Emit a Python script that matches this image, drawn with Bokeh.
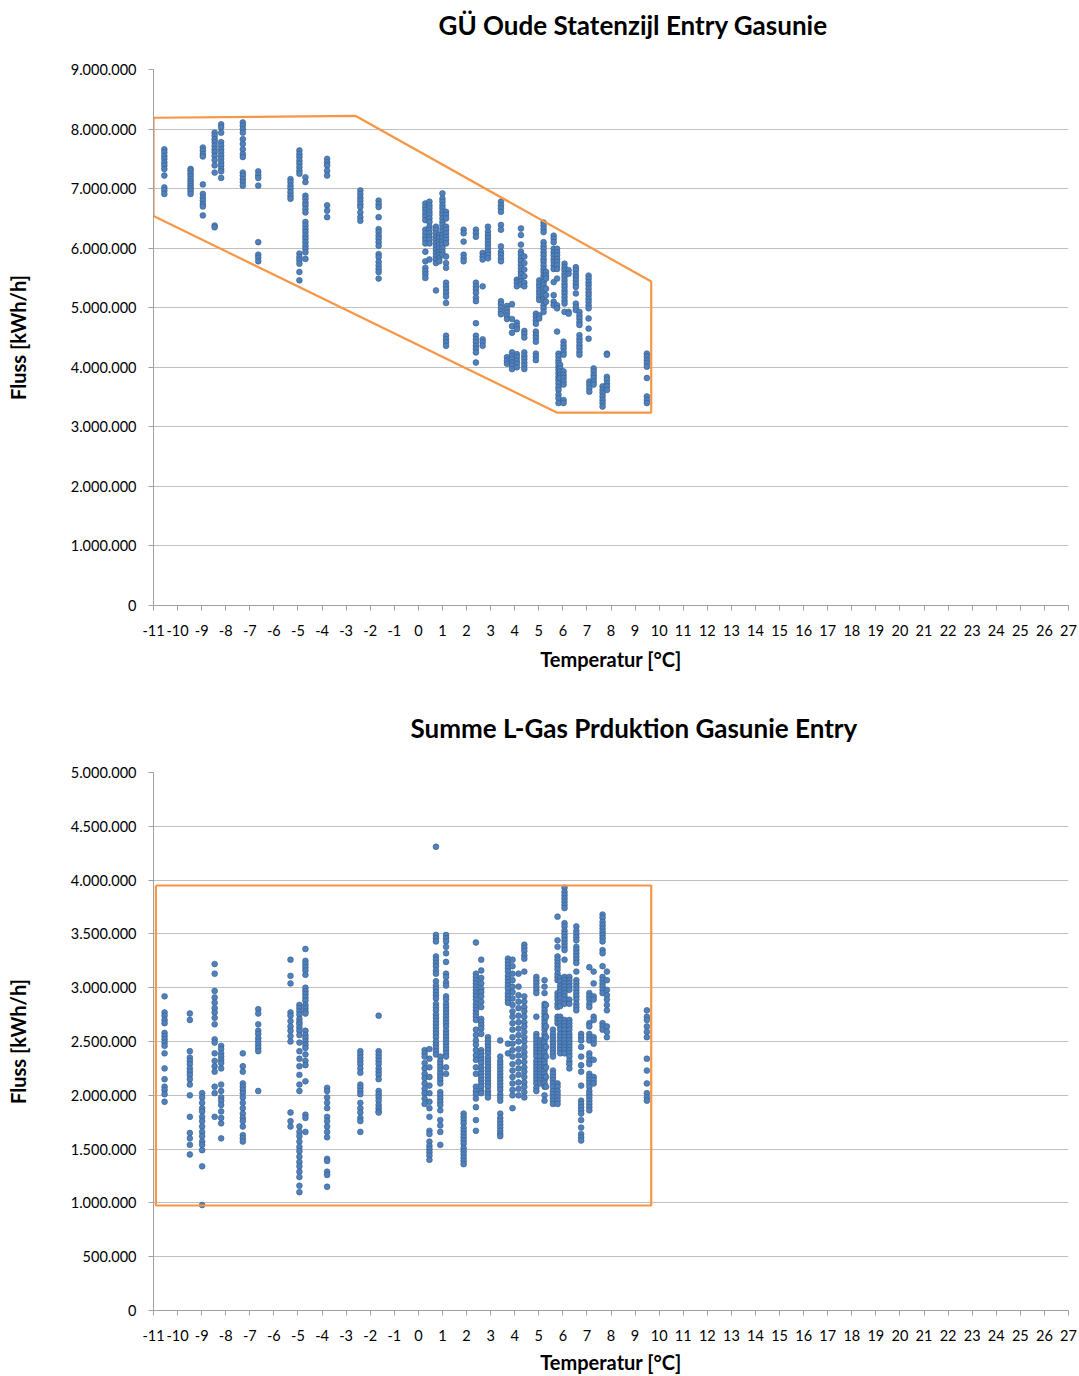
from bokeh.plotting import figure
from bokeh.layouts import column
from bokeh.models import Range1d, FixedTicker, CustomJSTickFormatter, Title
from bokeh.embed import file_html
from bokeh.resources import INLINE

# ---------------- data (flows in million kWh/h) ----------------
top_title = "GÜ Oude Statenzijl Entry Gasunie"
bot_title = "Summe L-Gas Prduktion Gasunie Entry"
x_label = "Temperatur [°C]"
y_label = "Fluss [kWh/h]"

top_temps = [-10.55, -9.46, -8.95, -8.46, -8.19, -7.29, -6.65, -5.31, -4.94, -4.69,
             -3.79, -2.41, -1.65, 0.29, 0.46, 0.73, 0.87, 1.00, 1.15, 1.88,
             2.39, 2.67, 2.89, 3.43, 3.68, 3.89, 4.09, 4.26, 4.40, 4.88,
             5.02, 5.20, 5.30, 5.62, 5.76, 5.82, 5.89, 6.03, 6.07, 6.24,
             6.54, 6.69, 7.07, 7.10, 7.28, 7.65, 7.83, 9.49]
top_flows_mio = [
    [7.66, 7.61, 7.55, 7.50, 7.44, 7.39, 7.33, 7.22, 7.02, 6.97, 6.91],
    [7.33, 7.30, 7.25, 7.21, 7.16, 7.12, 7.08, 7.04, 7.00, 6.96, 6.91],
    [7.69, 7.64, 7.58, 7.54, 7.07, 6.91, 6.85, 6.80, 6.74, 6.70, 6.55],
    [7.94, 7.89, 7.83, 7.78, 7.72, 7.66, 7.61, 7.55, 7.48, 7.39, 7.27, 6.38, 6.35],
    [8.08, 8.03, 7.94, 7.78, 7.72, 7.66, 7.61, 7.55, 7.50, 7.44, 7.39, 7.33, 7.29, 7.18],
    [8.11, 8.06, 8.00, 7.94, 7.83, 7.75, 7.66, 7.58, 7.53, 7.27, 7.22, 7.16, 7.11, 7.05],
    [7.29, 7.23, 7.18, 7.05, 6.10, 5.89, 5.84, 5.78],
    [7.16, 7.11, 7.05, 7.00, 6.94, 6.88, 6.83],
    [7.64, 7.58, 7.53, 7.47, 7.42, 7.36, 7.30, 7.25, 5.91, 5.85, 5.80, 5.74, 5.60, 5.46],
    [7.19, 7.11, 6.88, 6.83, 6.77, 6.72, 6.66, 6.60, 6.44, 6.38, 6.32, 6.27, 6.21, 6.16,
     6.10, 6.04, 5.99, 5.93, 5.82],
    [7.50, 7.44, 7.39, 7.30, 7.22, 6.72, 6.63, 6.52],
    [6.97, 6.91, 6.85, 6.80, 6.74, 6.69, 6.60, 6.52, 6.46],
    [6.80, 6.74, 6.69, 6.52, 6.32, 6.27, 6.21, 6.16, 6.10, 6.04, 5.90, 5.85, 5.77, 5.71,
     5.65, 5.60, 5.49],
    [6.75, 6.69, 6.64, 6.58, 6.53, 6.47, 6.31, 6.25, 6.19, 6.14, 6.08, 5.94, 5.78, 5.67,
     5.61, 5.56, 5.50],
    [6.78, 6.72, 6.67, 6.61, 6.56, 6.50, 6.44, 6.36, 6.31, 6.25, 6.19, 6.14, 6.08, 5.81],
    [6.36, 6.31, 6.25, 6.19, 6.14, 6.08, 6.03, 5.97, 5.92, 5.86, 5.81, 5.75, 5.29],
    [6.22, 6.17, 6.11, 6.06, 6.00, 5.94, 5.89, 5.83, 5.78],
    [6.92, 6.83, 6.78, 6.72, 6.67, 6.61, 6.56, 6.50, 6.44, 6.39, 6.33, 6.28, 6.22, 6.17,
     6.11, 6.06, 6.00, 5.94, 5.89],
    [6.61, 6.56, 6.50, 6.36, 6.31, 6.25, 6.19, 6.14, 6.08, 5.86, 5.75, 5.67, 5.42, 5.36,
     5.31, 5.25, 5.19, 5.08, 4.53, 4.47, 4.42, 4.36],
    [6.31, 6.25, 6.11, 5.89, 5.83, 5.78],
    [6.31, 6.25, 6.19, 5.42, 5.36, 5.31, 5.25, 5.17, 5.11, 4.74, 4.53, 4.47, 4.42, 4.36,
     4.31, 4.25, 4.08],
    [5.92, 5.86, 5.81, 5.36, 4.47, 4.42, 4.36],
    [6.36, 6.28, 6.22, 6.17, 6.11, 6.06, 6.00, 5.94, 5.89, 5.83],
    [6.78, 6.72, 6.67, 6.61, 6.39, 6.31, 6.03, 5.94, 5.89, 5.83, 5.78, 5.11, 5.06, 5.00,
     4.94, 4.89],
    [5.03, 4.97, 4.92, 4.86, 4.81, 4.17, 4.11, 4.06],
    [5.06, 4.81, 4.69, 4.58, 4.25, 4.19, 4.14, 4.08, 4.03, 3.97],
    [5.47, 5.42, 5.36, 4.75, 4.69, 4.64, 4.22, 4.17, 4.11, 4.06, 4.00],
    [6.33, 6.22, 6.06, 5.94, 5.89, 5.83, 5.78, 5.72, 5.67, 5.61, 5.56, 5.50, 5.44, 5.39],
    [5.86, 5.75, 5.64, 5.53, 5.42, 5.36, 4.61, 4.56, 4.50, 4.25, 4.19, 4.14, 4.08, 4.03, 3.97],
    [4.90, 4.85, 4.79, 4.73, 4.60, 4.54, 4.49, 4.43, 4.23, 4.18, 4.12],
    [5.46, 5.40, 5.35, 5.29, 5.24, 5.18, 5.13, 4.87, 4.82],
    [6.43, 6.38, 6.32, 6.27, 6.10, 6.04, 5.99, 5.93, 5.88, 5.82, 5.77, 5.71, 5.65, 5.60,
     5.54, 5.49, 5.43, 5.38, 5.32, 5.26, 5.21, 5.15, 5.10, 5.04, 4.99, 4.93],
    [5.60, 5.54, 5.49, 5.32, 5.21, 5.10],
    [6.21, 6.16, 6.10, 5.99, 5.93, 5.88, 5.82, 5.77, 5.71, 5.65, 5.43, 5.21, 5.10, 5.04],
    [5.99, 5.93, 5.88, 5.82, 5.77, 5.71, 5.65, 5.49, 5.04, 4.99, 4.60],
    [4.23, 4.18, 4.12, 4.07, 4.01, 3.96, 3.90, 3.84, 3.79, 3.73, 3.67, 3.62, 3.54, 3.48, 3.40],
    [4.04, 3.98, 3.93, 3.87, 3.82],
    [4.43, 4.37, 4.32, 4.26, 4.21, 3.93, 3.87, 3.82, 3.76, 3.71, 3.45, 3.40],
    [5.74, 5.68, 5.63, 5.57, 5.52, 5.46, 5.40, 5.35, 5.29, 5.24, 5.18, 5.12, 5.07, 4.93],
    [5.63, 5.57, 4.93, 4.90],
    [5.68, 5.63, 5.57, 5.52, 5.46, 5.40, 5.35, 5.24, 5.07, 5.01, 4.96],
    [4.93, 4.87, 4.82, 4.76, 4.71, 4.54, 4.48, 4.43, 4.37, 4.32, 4.26, 4.21],
    [5.54, 5.49, 5.43, 5.38, 5.32, 5.26, 5.21, 5.15, 5.10, 5.04, 4.99, 4.82, 4.65, 4.48],
    [3.76, 3.71, 3.65, 3.59],
    [3.98, 3.93, 3.87, 3.82, 3.76, 3.71],
    [3.68, 3.62, 3.57, 3.51, 3.45, 3.40, 3.34],
    [4.23, 4.21, 3.84, 3.79, 3.73, 3.68, 3.62],
    [4.23, 4.18, 4.12, 4.07, 4.01, 3.82, 3.51, 3.45, 3.40],
]

bot_temps = [-10.54, -9.49, -8.98, -8.46, -8.19, -7.29, -6.65, -5.31, -4.94, -4.69,
             -3.79, -2.41, -1.65, 0.26, 0.46, 0.73, 0.91, 1.15, 1.88, 2.39,
             2.61, 2.89, 3.40, 3.72, 3.91, 4.16, 4.40, 4.90, 5.06, 5.24,
             5.30, 5.59, 5.78, 5.89, 6.07, 6.27, 6.56, 6.76, 7.10, 7.28,
             7.65, 7.83, 9.49]
bot_flows_mio = [
    [2.92, 2.77, 2.74, 2.70, 2.67, 2.58, 2.55, 2.52, 2.49, 2.46, 2.39, 2.25, 2.15, 2.08,
     2.05, 2.01, 1.94],
    [2.76, 2.70, 2.41, 2.35, 2.32, 2.29, 2.25, 2.22, 2.19, 2.15, 2.10, 2.00, 1.80, 1.65,
     1.60, 1.54, 1.45],
    [2.02, 1.98, 1.93, 1.88, 1.85, 1.80, 1.76, 1.71, 1.66, 1.62, 1.57, 1.54, 1.49, 1.34, 0.98],
    [3.22, 3.13, 2.97, 2.91, 2.86, 2.81, 2.77, 2.72, 2.66, 2.52, 2.49, 2.39, 2.32, 2.27,
     2.22, 2.08, 2.02, 1.80],
    [2.46, 2.43, 2.39, 2.36, 2.33, 2.30, 2.25, 2.10, 2.04, 1.98, 1.95, 1.91, 1.85, 1.79,
     1.74, 1.60],
    [2.39, 2.27, 2.22, 2.11, 2.08, 2.05, 2.02, 1.98, 1.93, 1.88, 1.83, 1.79, 1.76, 1.71,
     1.63, 1.60, 1.57],
    [2.80, 2.76, 2.66, 2.60, 2.57, 2.53, 2.50, 2.47, 2.44, 2.41, 2.04],
    [3.26, 3.11, 3.04, 2.77, 2.74, 2.69, 2.64, 2.60, 2.55, 2.50, 1.84, 1.76, 1.71],
    [2.84, 2.81, 2.78, 2.75, 2.71, 2.68, 2.66, 2.63, 2.60, 2.56, 2.49, 2.41, 2.34, 2.27,
     2.19, 2.10, 2.04, 1.71, 1.66, 1.62, 1.57, 1.52, 1.48, 1.43, 1.38, 1.34, 1.29, 1.24,
     1.16, 1.10],
    [3.36, 3.25, 3.22, 3.19, 3.16, 3.12, 3.00, 2.97, 2.94, 2.91, 2.88, 2.84, 2.81, 2.78,
     2.76, 2.60, 2.56, 2.53, 2.50, 2.47, 2.44, 2.38, 2.32, 2.28, 2.13, 1.82, 1.79, 1.66],
    [2.07, 2.04, 1.98, 1.93, 1.88, 1.80, 1.76, 1.71, 1.66, 1.61, 1.41, 1.39, 1.29, 1.26, 1.15],
    [2.41, 2.38, 2.35, 2.32, 2.29, 2.25, 2.21, 2.10, 2.07, 2.04, 2.01, 1.93, 1.88, 1.84,
     1.79, 1.76, 1.66],
    [2.74, 2.41, 2.38, 2.35, 2.32, 2.29, 2.25, 2.22, 2.19, 2.15, 2.04, 2.01, 1.98, 1.95,
     1.91, 1.88, 1.85, 1.84],
    [2.42, 2.39, 2.36, 2.30, 2.25, 2.20, 2.16, 2.11, 2.06, 2.02, 1.97, 1.92],
    [2.43, 2.34, 2.26, 2.17, 2.09, 2.02, 1.94, 1.88, 1.80, 1.67, 1.64, 1.57, 1.53, 1.50,
     1.47, 1.44, 1.40],
    [4.31, 3.49, 3.46, 3.43, 3.29, 3.26, 3.23, 3.20, 3.16, 3.13, 3.06, 3.02, 2.99, 2.96,
     2.93, 2.90, 2.85, 2.82, 2.79, 2.75, 2.72, 2.69, 2.66, 2.63, 2.60, 2.57, 2.54, 2.50,
     2.47, 2.44, 2.41, 2.38],
    [2.36, 2.32, 2.29, 2.26, 2.23, 2.20, 2.17, 2.14, 2.11, 2.03, 2.00, 1.97, 1.94, 1.91,
     1.86, 1.77, 1.72, 1.66, 1.54],
    [3.49, 3.46, 3.43, 3.38, 3.32, 3.24, 3.13, 3.10, 3.05, 3.02, 2.92, 2.89, 2.85, 2.82,
     2.79, 2.76, 2.73, 2.70, 2.67, 2.64, 2.60, 2.57, 2.54, 2.51, 2.48, 2.45, 2.42, 2.39,
     2.36, 2.26, 2.20],
    [1.83, 1.80, 1.77, 1.74, 1.70, 1.67, 1.64, 1.61, 1.58, 1.55, 1.51, 1.48, 1.45, 1.42,
     1.39, 1.36],
    [3.42, 3.13, 3.10, 3.07, 3.04, 3.01, 2.98, 2.95, 2.92, 2.89, 2.85, 2.82, 2.79, 2.76,
     2.73, 2.70, 2.61, 2.56, 2.51, 2.47, 2.42, 2.37, 2.33, 2.26, 2.20, 2.08, 2.04, 2.01,
     1.97, 1.89, 1.77, 1.67],
    [3.26, 3.16, 3.09, 3.04, 2.99, 2.96, 2.92, 2.87, 2.82, 2.71, 2.68, 2.65, 2.62, 2.57,
     2.42, 2.39, 2.36, 2.33, 2.30, 2.26, 2.23, 2.20, 2.17, 2.14, 2.11, 2.08, 2.04, 2.02],
    [2.54, 2.51, 2.48, 2.45, 2.42, 2.39, 2.35, 2.32, 2.29, 2.26, 2.23, 2.20, 2.17, 2.14,
     2.11, 2.08, 2.04, 2.01, 1.98],
    [2.51, 2.36, 2.32, 2.29, 2.26, 2.23, 2.20, 2.17, 2.14, 2.11, 2.08, 2.05, 2.01, 1.98,
     1.95, 1.83, 1.79, 1.76, 1.73, 1.70, 1.67, 1.64, 1.62],
    [3.27, 3.24, 3.21, 3.18, 3.15, 3.11, 3.08, 3.05, 3.02, 2.99, 2.95, 2.92, 2.89, 2.86,
     2.48, 2.39],
    [3.26, 3.20, 3.13, 3.07, 3.01, 2.96, 2.90, 2.84, 2.78, 2.73, 2.67, 2.61, 2.54, 2.48,
     2.42, 2.36, 2.29, 2.23, 2.17, 2.11, 2.05, 2.00, 1.88],
    [3.13, 3.01, 2.93, 2.87, 2.81, 2.74, 2.68, 2.62, 2.56, 2.50, 2.43, 2.37, 2.31, 2.25,
     2.19, 2.12, 2.06, 2.00],
    [3.40, 3.37, 3.34, 3.30, 3.27, 3.15, 2.92, 2.87, 2.82, 2.78, 2.73, 2.68, 2.64, 2.59,
     2.54, 2.50, 2.45, 2.40, 2.36, 2.31, 2.26, 2.22, 2.17, 2.12, 2.08, 2.03, 1.98],
    [3.10, 3.07, 3.04, 3.01, 2.98, 2.95, 2.73, 2.57, 2.54, 2.51, 2.48, 2.45, 2.42, 2.39,
     2.36, 2.32, 2.29, 2.26, 2.23, 2.20, 2.17, 2.14, 2.11, 2.07, 2.04],
    [2.51, 2.48, 2.45, 2.42, 2.39, 2.36, 2.32, 2.29, 2.26, 2.23, 2.20, 2.17, 2.14, 2.11],
    [3.07, 3.01, 2.95, 2.85, 2.82, 2.79, 2.76, 2.73, 2.70, 2.67, 2.64, 2.61, 2.57, 2.54,
     2.51, 2.48, 2.45, 2.42, 2.39, 2.36, 2.32, 2.29, 2.26, 2.23, 2.20, 2.17, 2.14, 2.11,
     2.08, 2.00, 1.95],
    [2.84, 2.73, 2.64, 2.54, 2.45, 2.36, 2.26, 2.17, 2.08],
    [2.61, 2.57, 2.54, 2.51, 2.48, 2.45, 2.42, 2.39, 2.36, 2.23, 2.20, 2.17, 2.14, 2.11,
     2.08, 2.04, 2.01, 1.98, 1.95, 1.92],
    [3.66, 3.44, 3.38, 3.29, 3.26, 3.23, 3.20, 3.17, 3.13, 3.10, 3.07, 2.95, 2.92, 2.89,
     2.85, 2.82, 2.73, 2.70, 2.67, 2.11, 2.08, 2.04, 2.01, 1.98, 1.95, 1.92],
    [3.09, 3.06, 3.02, 2.99, 2.96, 2.93, 2.90, 2.86, 2.83, 2.73, 2.70, 2.67, 2.64, 2.61,
     2.57, 2.54, 2.51, 2.48, 2.45, 2.42, 2.39],
    [3.93, 3.89, 3.86, 3.83, 3.80, 3.77, 3.74, 3.60, 3.57, 3.53, 3.50, 3.47, 3.44, 3.41,
     3.38, 3.35, 3.26, 3.10, 3.07, 3.04, 3.01, 2.98, 2.95, 2.92, 2.89, 2.85, 2.70, 2.67,
     2.64, 2.61, 2.57, 2.54, 2.51, 2.48, 2.45, 2.42, 2.39],
    [3.10, 3.07, 3.04, 3.01, 2.98, 2.89, 2.85, 2.70, 2.67, 2.64, 2.61, 2.57, 2.54, 2.51,
     2.48, 2.45, 2.42, 2.39, 2.36, 2.32, 2.29, 2.25],
    [3.57, 3.53, 3.50, 3.47, 3.44, 3.38, 3.35, 3.32, 3.29, 3.26, 3.23, 3.15, 3.07, 3.04,
     3.01, 2.98, 2.95, 2.92, 2.89, 2.85, 2.82, 2.79],
    [2.57, 2.54, 2.51, 2.45, 2.36, 2.28, 2.22, 2.09, 1.95, 1.92, 1.89, 1.86, 1.83, 1.77,
     1.70, 1.64, 1.61, 1.58],
    [3.19, 2.95, 2.92, 2.89, 2.85, 2.82, 2.67, 2.64, 2.57, 2.54, 2.51, 2.39, 2.36, 2.32,
     2.29, 2.20, 2.17, 2.14, 2.11, 2.08, 2.04, 2.01, 1.98, 1.95, 1.92, 1.89, 1.86],
    [3.15, 3.04, 2.92, 2.89, 2.73, 2.70, 2.54, 2.51, 2.48, 2.33, 2.17, 2.14, 2.11],
    [3.68, 3.65, 3.61, 3.58, 3.55, 3.52, 3.49, 3.46, 3.43, 3.35, 3.32, 3.20, 3.10, 3.07,
     3.04, 3.01, 2.98, 2.95, 2.67, 2.64, 2.61],
    [3.15, 3.07, 2.98, 2.93, 2.89, 2.84, 2.79, 2.64, 2.59, 2.54],
    [2.79, 2.73, 2.70, 2.64, 2.59, 2.54, 2.34, 2.23, 2.11, 2.02, 1.98, 1.95],
]

# orange envelopes drawn on the charts (temperature, flow in million kWh/h)
top_envelope_temp = [-11.0, -2.6, 9.67, 9.67, 5.75, -11.0, -11.0]
top_envelope_flow_mio = [8.19, 8.22, 5.44, 3.24, 3.24, 6.54, 8.19]
bot_envelope_temp = [-10.9, 9.67, 9.67, -10.9, -10.9]
bot_envelope_flow_mio = [3.95, 3.95, 0.976, 0.976, 3.95]

x_ticks = list(range(-11, 28))
top_y_ticks = [0, 1000000, 2000000, 3000000, 4000000, 5000000, 6000000, 7000000, 8000000, 9000000]
bot_y_ticks = [0, 500000, 1000000, 1500000, 2000000, 2500000, 3000000, 3500000, 4000000,
               4500000, 5000000]

# ---------------- helpers ----------------
MIO = 1e6
FONT = "Lato"


def flatten(temps, flows):
    xs, ys = [], []
    for t, col in zip(temps, flows):
        for v in col:
            xs.append(t)
            ys.append(v * MIO)
    return xs, ys


def make_fig(height, border_top, border_bottom, y_ticks, title_text, title_offset):
    p = figure(width=1078, height=height,
               x_range=Range1d(x_ticks[0], x_ticks[-1]),
               y_range=Range1d(y_ticks[0], y_ticks[-1]),
               output_backend="svg", toolbar_location=None,
               min_border_left=153, min_border_right=10,
               min_border_top=border_top, min_border_bottom=border_bottom)
    p.title = None
    # spacer (closest to the frame) then the real title above it
    p.add_layout(Title(text=" ", text_font=FONT, text_font_size="10px", standoff=10), "above")
    p.add_layout(Title(text=title_text, align="left", offset=title_offset, text_font=FONT,
                       text_font_size="26px", text_font_style="bold",
                       text_color="#000000"), "above")
    p.outline_line_color = None
    p.background_fill_color = "white"
    p.border_fill_color = "white"
    p.xgrid.visible = False
    p.ygrid.grid_line_color = "#c0c0c0"
    p.ygrid.grid_line_width = 1
    p.xaxis.ticker = FixedTicker(ticks=x_ticks)
    p.yaxis.ticker = FixedTicker(ticks=y_ticks)
    p.xaxis.formatter = CustomJSTickFormatter(code="return tick.toFixed(0);")
    p.yaxis.formatter = CustomJSTickFormatter(
        code=r"return Math.round(tick).toString().replace(/\B(?=(\d{3})+(?!\d))/g, '.');")
    for ax in (p.xaxis, p.yaxis):
        ax.axis_line_color = "#a0a0a0"
        ax.major_tick_line_color = "#a0a0a0"
        ax.major_tick_out = 5
        ax.major_tick_in = 0
        ax.minor_tick_line_color = None
        ax.major_label_text_font = FONT
        ax.major_label_text_font_size = "14.5px"
        ax.major_label_text_color = "#000000"
        ax.axis_label_text_font = FONT
        ax.axis_label_text_font_style = "bold"
        ax.axis_label_text_font_size = "20px"
        ax.axis_label_text_color = "#000000"
    p.xaxis.axis_label = x_label
    p.yaxis.axis_label = y_label
    p.yaxis.major_label_standoff = 12
    p.yaxis.axis_label_standoff = 38
    p.xaxis.major_label_standoff = 14
    p.xaxis.axis_label_standoff = 8
    return p


def add_points(p, temps, flows, env_t, env_f):
    xs, ys = flatten(temps, flows)
    p.scatter(xs, ys, size=5.8, fill_color="#4F81BD", line_color="#385D8A", line_width=0.6)
    p.line(env_t, [v * MIO for v in env_f], line_color="#F79646", line_width=2.2)


p1 = make_fig(688, 69, 83, top_y_ticks, top_title, 285)
add_points(p1, top_temps, top_flows_mio, top_envelope_temp, top_envelope_flow_mio)

p2 = make_fig(688, 84, 66, bot_y_ticks, bot_title, 257)
add_points(p2, bot_temps, bot_flows_mio, bot_envelope_temp, bot_envelope_flow_mio)
p2.xaxis.axis_label_standoff = 6

layout = column(p1, p2)
open("out.html", "w").write(file_html(layout, INLINE))
